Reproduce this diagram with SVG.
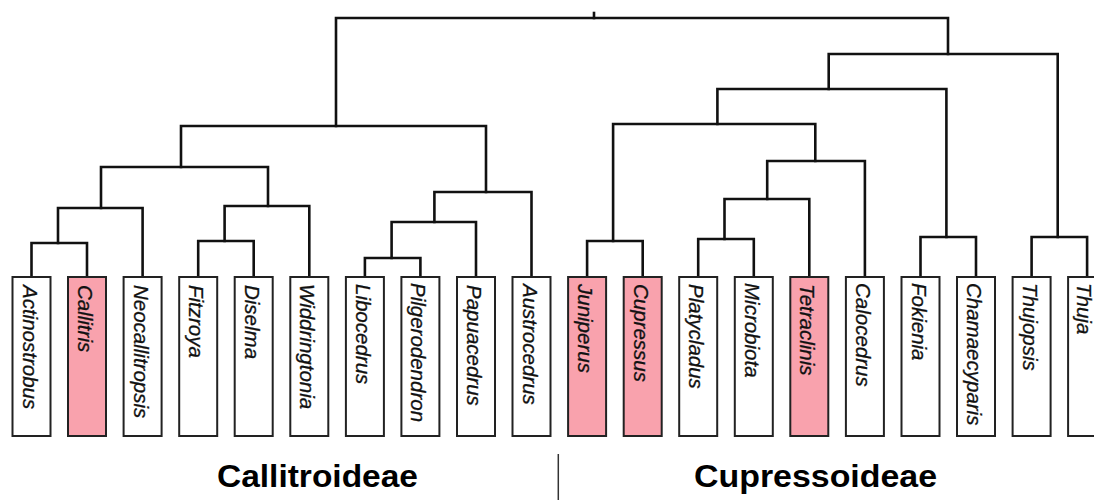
<svg xmlns="http://www.w3.org/2000/svg" width="1094" height="500" viewBox="0 0 1094 500">
<style>
.br{fill:none;stroke:#111;stroke-width:2.6;stroke-linejoin:miter;stroke-linecap:square}
.box{fill:#fff;stroke:#222;stroke-width:2}
.pink{fill:#F9A2AD}
.lb{font-family:"Liberation Sans",Arial,sans-serif;font-style:italic;font-size:20.5px;fill:#111;stroke:#111;stroke-width:0.3}
.grp{font-family:"Liberation Sans",Arial,sans-serif;font-weight:bold;font-size:32px;fill:#000}
</style>
<rect width="1094" height="500" fill="#fff"/>
<g id="connectors" class="br">
<path d="M336 126 V18 H948 V54"/>
<path d="M594 13 V18"/>
<path d="M181 167 V126 H486 V192"/>
<path d="M101 208 V167 H268 V206"/>
<path d="M58 243 V208 H142.6 V277"/>
<path d="M31.5 277 V243 H87 V277"/>
<path d="M224.6 241 V206 H309.3 V277"/>
<path d="M198.2 277 V241 H253.7 V277"/>
<path d="M434.4 222 V192 H531.5 V277"/>
<path d="M391.6 258 V222 H476 V277"/>
<path d="M364.9 277 V258 H420.4 V277"/>
<path d="M828.7 89 V54 H1057.7 V237"/>
<path d="M1031.6 277 V237 H1087.1 V277"/>
<path d="M717.4 124 V89 H946.4 V237"/>
<path d="M920.5 277 V237 H976 V277"/>
<path d="M613.1 241 V124 H815.3 V161"/>
<path d="M587.1 277 V241 H642.7 V277"/>
<path d="M767.2 199 V161 H864.9 V277"/>
<path d="M724.5 239 V199 H809.3 V277"/>
<path d="M698.2 277 V239 H753.8 V277"/>
</g>
<g id="n-actinostrobus"><rect class="box" x="12.5" y="277" width="38" height="159"/><text class="lb" transform="translate(22.5 285) rotate(90)">Actinostrobus</text></g>
<g id="n-callitris"><rect class="box pink" x="68" y="277" width="38" height="159"/><text class="lb" transform="translate(78 285) rotate(90)">Callitris</text></g>
<g id="n-neocallitropsis"><rect class="box" x="123.6" y="277" width="38" height="159"/><text class="lb" transform="translate(133.6 285) rotate(90)">Neocallitropsis</text></g>
<g id="n-fitzroya"><rect class="box" x="179.2" y="277" width="38" height="159"/><text class="lb" transform="translate(189.2 285) rotate(90)">Fitzroya</text></g>
<g id="n-diselma"><rect class="box" x="234.7" y="277" width="38" height="159"/><text class="lb" transform="translate(244.7 285) rotate(90)">Diselma</text></g>
<g id="n-widdringtonia"><rect class="box" x="290.3" y="277" width="38" height="159"/><text class="lb" transform="translate(300.3 284) rotate(90)">Widdringtonia</text></g>
<g id="n-libocedrus"><rect class="box" x="345.9" y="277" width="38" height="159"/><text class="lb" transform="translate(355.9 284) rotate(90)">Libocedrus</text></g>
<g id="n-pilgerodendron"><rect class="box" x="401.4" y="277" width="38" height="159"/><text class="lb" transform="translate(411.4 283) rotate(90)">Pilgerodendron</text></g>
<g id="n-papuacedrus"><rect class="box" x="457" y="277" width="38" height="159"/><text class="lb" transform="translate(467 285) rotate(90)">Papuacedrus</text></g>
<g id="n-austrocedrus"><rect class="box" x="512.5" y="277" width="38" height="159"/><text class="lb" transform="translate(522.5 284) rotate(90)">Austrocedrus</text></g>
<g id="n-juniperus"><rect class="box pink" x="568.1" y="277" width="38" height="159"/><text class="lb" transform="translate(578.1 284) rotate(90)">Juniperus</text></g>
<g id="n-cupressus"><rect class="box pink" x="623.7" y="277" width="38" height="159"/><text class="lb" transform="translate(633.7 284) rotate(90)">Cupressus</text></g>
<g id="n-platycladus"><rect class="box" x="679.2" y="277" width="38" height="159"/><text class="lb" transform="translate(689.2 284) rotate(90)">Platycladus</text></g>
<g id="n-microbiota"><rect class="box" x="734.8" y="277" width="38" height="159"/><text class="lb" transform="translate(744.8 283) rotate(90)">Microbiota</text></g>
<g id="n-tetraclinis"><rect class="box pink" x="790.3" y="277" width="38" height="159"/><text class="lb" transform="translate(800.3 284) rotate(90)">Tetraclinis</text></g>
<g id="n-calocedrus"><rect class="box" x="845.9" y="277" width="38" height="159"/><text class="lb" transform="translate(855.9 283) rotate(90)">Calocedrus</text></g>
<g id="n-fokienia"><rect class="box" x="901.5" y="277" width="38" height="159"/><text class="lb" transform="translate(911.5 283) rotate(90)">Fokienia</text></g>
<g id="n-chamaecyparis"><rect class="box" x="957" y="277" width="38" height="159"/><text class="lb" transform="translate(967 283) rotate(90)">Chamaecyparis</text></g>
<g id="n-thujopsis"><rect class="box" x="1012.6" y="277" width="38" height="159"/><text class="lb" transform="translate(1022.6 283) rotate(90)">Thujopsis</text></g>
<g id="n-thuja"><rect class="box" x="1068.1" y="277" width="38" height="159"/><text class="lb" transform="translate(1076.5 283) rotate(90)">Thuja</text></g>
<g id="groups">
<text class="grp" x="217" y="487" textLength="201" lengthAdjust="spacingAndGlyphs">Callitroideae</text>
<text class="grp" x="694" y="487" textLength="243" lengthAdjust="spacingAndGlyphs">Cupressoideae</text>
<line x1="558.3" y1="454" x2="558.3" y2="500" stroke="#333" stroke-width="1.5"/>
</g>
</svg>
